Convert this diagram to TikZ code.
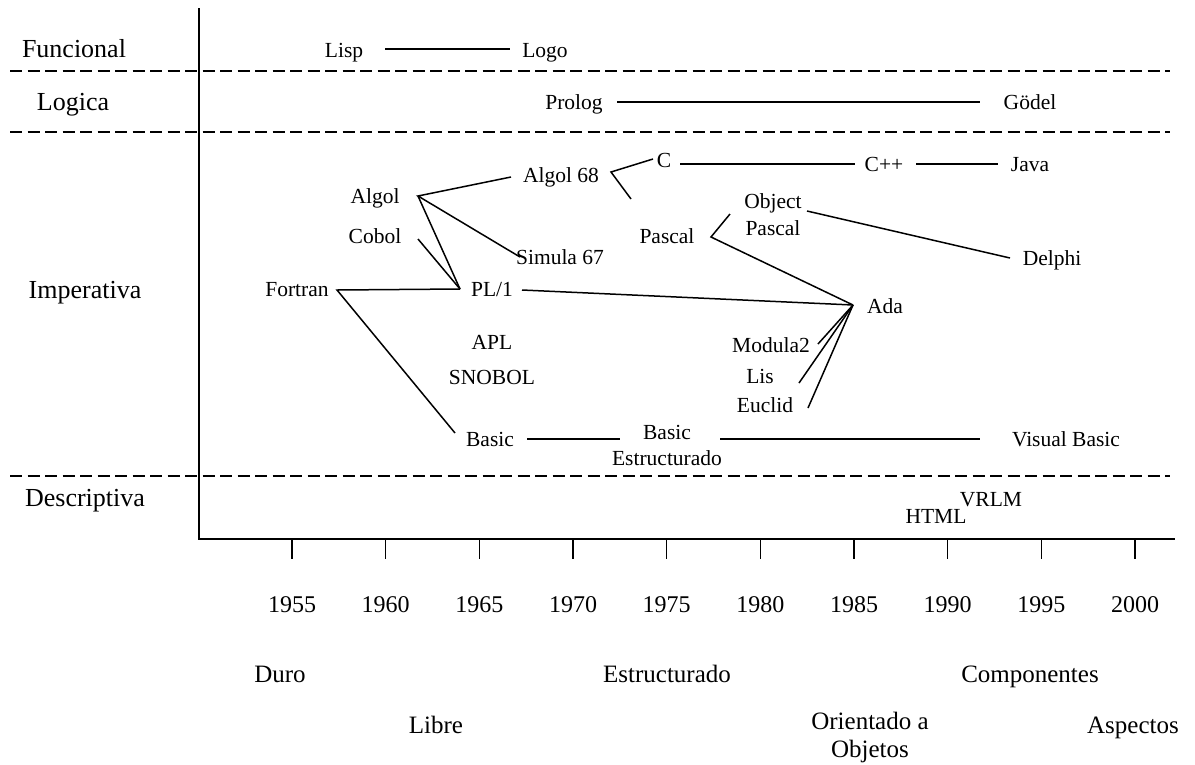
\documentclass[tikz,border=0pt]{standalone}
\usepackage{fontspec}
\setmainfont{Liberation Serif}
\begin{document}
\begin{tikzpicture}[x=1pt,y=-1pt,
  lang/.style={font=\fontsize{21.5}{26}\selectfont,anchor=base,inner sep=0pt},
  para/.style={font=\fontsize{26}{30}\selectfont,anchor=base,inner sep=0pt},
  yearlab/.style={font=\fontsize{24}{28}\selectfont,anchor=base,inner sep=0pt},
  era/.style={font=\fontsize{25}{29}\selectfont,anchor=base,inner sep=0pt},
  link/.style={line width=1.5pt},
  band/.style={line width=2.8pt,dash pattern=on 12pt off 5.5pt},
  axisline/.style={line width=1.6pt},
  tickline/.style={line width=1.4pt}]
\useasboundingbox (0,0) rectangle (1195,764);

% axes
\coordinate (otop) at (199,8);
\coordinate (origin) at (199,539);
\coordinate (xend) at (1175,539);
\draw[axisline] (otop) -- (origin) -- (xend);

% paradigm separators
\foreach \yy/\nm in {71/sepA,132/sepB,476/sepC}{
  \coordinate (\nm-l) at (10,\yy);
  \coordinate (\nm-r) at (1170,\yy);
  \draw[band] (\nm-l) -- (\nm-r);
}

% paradigm names
\node[para] (funcional)   at (74,57)  {Funcional};
\node[para] (logica)      at (73,110) {Logica};
\node[para] (imperativa)  at (85,298) {Imperativa};
\node[para] (descriptiva) at (85,506) {Descriptiva};

% year ticks and labels
\foreach \yr [count=\i from 0] in {1955,1960,1965,1970,1975,1980,1985,1990,1995,2000}{
  \pgfmathsetmacro{\tx}{292+93.67*\i}
  \coordinate (tick\yr-a) at (\tx,539);
  \coordinate (tick\yr-b) at (\tx,559);
  \draw[tickline] (tick\yr-a) -- (tick\yr-b);
  \node[yearlab] (y\yr) at (\tx,612) {\yr};
}

% programming styles
\node[era] (duro)    at (280,682) {Duro};
\node[era] (libre)   at (436,733) {Libre};
\node[era] (estr)    at (667,682) {Estructurado};
\node[era] (oo1)     at (870,729) {Orientado a};
\node[era] (oo2)     at (870,757) {Objetos};
\node[era] (comp)    at (1030,682) {Componentes};
\node[era] (asp)     at (1133,733) {Aspectos};

% languages
\node[lang] (lisp)    at (344,57)  {Lisp};
\node[lang] (logo)    at (545,57)  {Logo};
\node[lang] (prolog)  at (574,109) {Prolog};
\node[lang] (godel)   at (1030,109) {Gödel};
\node[lang] (algol68) at (561,182) {Algol 68};
\node[lang] (c)       at (664,167) {C};
\node[lang] (cpp)     at (884,171) {C++};
\node[lang] (java)    at (1030,171) {Java};
\node[lang] (algol)   at (375,203) {Algol};
\node[lang] (cobol)   at (375,243) {Cobol};
\node[lang] (fortran) at (297,296) {Fortran};
\node[lang] (pl1)     at (492,296) {PL/1};
\node[lang] (simula)  at (560,264) {Simula 67};
\node[lang] (pascal)  at (667,243) {Pascal};
\node[lang] (objp1)   at (773,208) {Object};
\node[lang] (objp2)   at (773,235) {Pascal};
\node[lang] (delphi)  at (1052,265) {Delphi};
\node[lang] (ada)     at (885,313) {Ada};
\node[lang] (modula)  at (771,352) {Modula2};
\node[lang] (lis)     at (760,383) {Lis};
\node[lang] (euclid)  at (765,412) {Euclid};
\node[lang] (apl)     at (492,349) {APL};
\node[lang] (snobol)  at (492,384) {SNOBOL};
\node[lang] (basic)   at (490,446) {Basic};
\node[lang] (bse1)    at (667,439) {Basic};
\node[lang] (bse2)    at (667,465) {Estructurado};
\node[lang] (vbasic)  at (1066,446) {Visual Basic};
\node[lang] (html)    at (936,523) {HTML};
\node[lang] (vrlm)    at (991,506) {VRLM};

% connector end points
\coordinate (lispR)   at (385,49);
\coordinate (logoL)   at (510,49);
\coordinate (prologR) at (617,102);
\coordinate (godelL)  at (980,102);
\coordinate (cR)      at (680,164);
\coordinate (cppL)    at (855,164);
\coordinate (cppR)    at (916,164);
\coordinate (javaL)   at (998,164);
\coordinate (a68V)    at (611,172);
\coordinate (cL)      at (653,159);
\coordinate (pascalT) at (631,199);
\coordinate (algolV)  at (418,196);
\coordinate (a68L)    at (511,177);
\coordinate (simulaL) at (520,257);
\coordinate (pl1L)    at (460,289);
\coordinate (cobolR)  at (418,239);
\coordinate (fortranV) at (337,290);
\coordinate (basicT)  at (455,433);
\coordinate (pl1R)    at (522,290);
\coordinate (adaV)    at (853,305);
\coordinate (pascalV) at (711,237);
\coordinate (objL)    at (730,214);
\coordinate (objR)    at (807,211);
\coordinate (delphiL) at (1010,258);
\coordinate (modulaR) at (818,344);
\coordinate (lisR)    at (799,383);
\coordinate (euclidR) at (808,408);
\coordinate (basicR)  at (527,439);
\coordinate (bseL)    at (620,439);
\coordinate (bseR)    at (720,439);
\coordinate (vbasicL) at (980,439);

% lineage
\draw[link] (lispR) -- (logoL);
\draw[link] (prologR) -- (godelL);
\draw[link] (cR) -- (cppL);
\draw[link] (cppR) -- (javaL);
\draw[link] (cL) -- (a68V) -- (pascalT);
\draw[link] (a68L) -- (algolV) -- (simulaL);
\draw[link] (algolV) -- (pl1L);
\draw[link] (cobolR) -- (pl1L);
\draw[link] (pl1L) -- (fortranV) -- (basicT);
\draw[link] (pl1R) -- (adaV);
\draw[link] (objL) -- (pascalV) -- (adaV);
\draw[link] (objR) -- (delphiL);
\draw[link] (modulaR) -- (adaV);
\draw[link] (lisR) -- (adaV);
\draw[link] (euclidR) -- (adaV);
\draw[link] (basicR) -- (bseL);
\draw[link] (bseR) -- (vbasicL);
\end{tikzpicture}
\end{document}
